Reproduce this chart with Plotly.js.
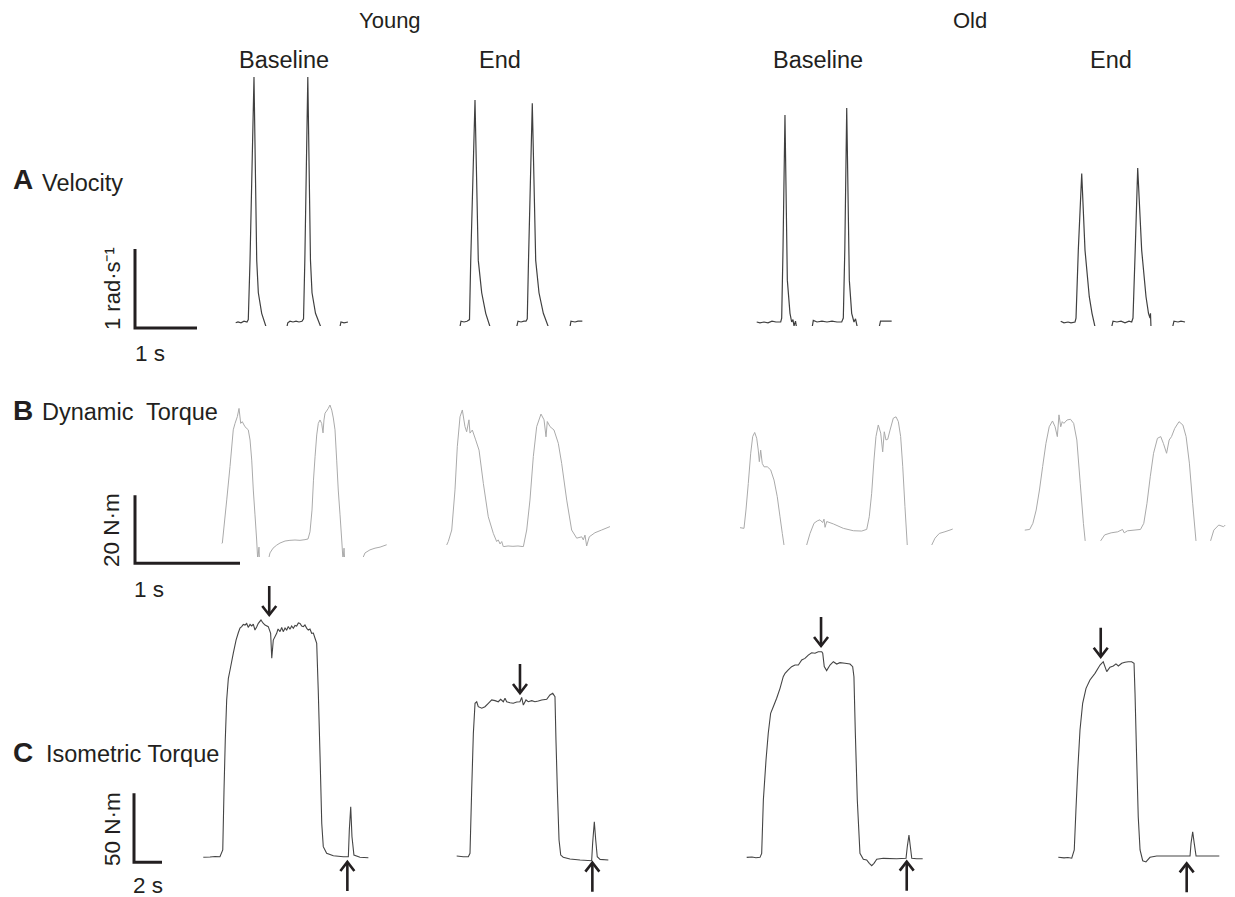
<!DOCTYPE html>
<html><head><meta charset="utf-8">
<script src="https://cdn.plot.ly/plotly-3.0.1.min.js"></script>
<style>html,body{margin:0;padding:0;background:#fff}#chart{width:1235px;height:897px}</style>
</head><body><div id="chart"></div>
<script>
// ---------- DATA (time in s, value in physical units) ----------
// Row A: angular velocity (rad/s)
const velYoungBase = [[0,-0.01],[0.037,0],[0.085,-0.01],[0.134,0.01],[0.182,0],[0.203,0.03],[0.231,0.78],[0.295,3.10],[0.339,0.78],[0.365,0.37],[0.419,0.11],[0.489,-0.06],[0.66,-0.6],[0.827,-0.06],[0.84,-0.01],[0.876,0.01],[0.924,0],[0.973,0.01],[1.021,0],[1.069,0.01],[1.094,0.04],[1.115,0.78],[1.163,3.10],[1.206,0.78],[1.231,0.37],[1.287,0.11],[1.371,-0.06],[1.53,-0.6],[1.682,-0.06],[1.698,0],[1.747,-0.01],[1.811,0]];
const velYoungEnd = [[0,-0.06],[0.016,0.01],[0.065,0],[0.113,0.01],[0.153,0.03],[0.173,0.78],[0.242,2.81],[0.295,0.78],[0.350,0.37],[0.415,0.11],[0.484,-0.06],[0.7,-0.6],[0.915,-0.06],[0.935,0.01],[0.984,0],[1.032,0.01],[1.065,0.01],[1.085,0.04],[1.105,0.78],[1.166,2.77],[1.221,0.78],[1.274,0.37],[1.344,0.11],[1.424,-0.06],[1.6,-0.6],[1.774,-0.06],[1.79,0.01],[1.855,0],[1.903,0.01],[1.973,0.01]];
const velOldBase = [[0,0],[0.053,-0.01],[0.118,0],[0.182,-0.01],[0.247,0.01],[0.311,0],[0.387,0],[0.403,0.05],[0.424,0.91],[0.456,2.62],[0.494,0.53],[0.537,0.11],[0.564,0],[0.585,0.03],[0.602,-0.05],[0.626,0.01],[0.645,-0.08],[0.78,-0.6],[0.913,0.02],[0.973,0],[1.053,0.01],[1.134,0],[1.215,0.01],[1.295,0],[1.371,0],[1.397,0.05],[1.421,0.91],[1.452,2.71],[1.494,0.53],[1.532,0.11],[1.569,0],[1.594,0.04],[1.618,-0.05],[1.65,-0.08],[1.81,-0.6],[1.977,-0.06],[1.997,0.01],[2.053,0.01],[2.118,0.01],[2.177,0.01]];
const velOldEnd = [[0,0.01],[0.053,-0.01],[0.118,0],[0.166,-0.01],[0.231,0],[0.247,0.05],[0.284,0.91],[0.339,1.88],[0.392,0.91],[0.461,0.32],[0.505,0.11],[0.553,-0.06],[0.69,-0.6],[0.823,-0.06],[0.844,0.01],[0.908,0],[0.973,0.01],[1.037,-0.01],[1.102,0.01],[1.145,0],[1.166,0.05],[1.202,0.91],[1.242,1.95],[1.306,0.91],[1.376,0.32],[1.416,0.11],[1.44,0.05],[1.448,0.11],[1.456,-0.06],[1.63,-0.6],[1.806,-0.06],[1.827,0.01],[1.892,0],[1.94,0.01],[2.005,0]];

// Row B: dynamic torque (N·m)
const dynYoungBase = [[0,4.0],[0.006,4.1],[0.048,16.8],[0.079,26.6],[0.110,37.4],[0.127,39.3],[0.149,41.3],[0.165,43.7],[0.181,39.3],[0.196,39.8],[0.222,38.3],[0.253,37.4],[0.270,34.4],[0.286,28.5],[0.301,19.7],[0.317,12.4],[0.333,5.0],[0.343,-0.9],[0.355,2.9],[0.362,-2.4],[0.40,-8],[0.444,-0.9],[0.46,1.2],[0.489,2.6],[0.524,3.5],[0.555,4.1],[0.603,4.7],[0.65,4.9],[0.698,5.0],[0.746,4.9],[0.793,5.1],[0.822,5.3],[0.841,7.4],[0.86,13.8],[0.874,22.6],[0.889,29.5],[0.905,35.9],[0.92,39.3],[0.936,40.3],[0.952,39.3],[0.965,36.5],[0.974,40.3],[0.984,42.3],[0.998,42.9],[1.015,43.7],[1.031,44.7],[1.048,43.2],[1.063,40.9],[1.079,37.4],[1.095,28.5],[1.110,19.7],[1.127,12.4],[1.143,5.0],[1.155,-0.9],[1.165,2.6],[1.174,-2.4],[1.25,-8],[1.336,-0.9],[1.365,1.2],[1.412,2.1],[1.46,2.6],[1.508,2.9],[1.571,3.6]];
const dynYoungEnd = [[0,0.6],[0.015,1.6],[0.048,5.0],[0.079,16.8],[0.101,29.5],[0.127,38.3],[0.149,40.3],[0.174,35.4],[0.19,33.9],[0.212,37.4],[0.222,33.5],[0.244,34.4],[0.276,31.5],[0.308,28.5],[0.349,18.7],[0.396,8.9],[0.444,4.0],[0.476,1.6],[0.491,2.1],[0.508,0.9],[0.524,1.6],[0.539,0.1],[0.584,0.3],[0.631,0.2],[0.679,0.3],[0.73,0.1],[0.762,5.0],[0.793,13.8],[0.825,26.6],[0.857,35.4],[0.898,39.1],[0.927,37.4],[0.946,32.4],[0.958,36.9],[0.984,35.4],[1.022,34.4],[1.063,30.5],[1.095,24.6],[1.143,13.8],[1.19,5.0],[1.238,2.6],[1.286,3.0],[1.301,2.1],[1.317,3.5],[1.333,0.3],[1.358,3.0],[1.412,4.2],[1.476,5.0],[1.555,6.0]];
const dynOldBase = [[0,5.1],[0.038,4.9],[0.057,10.3],[0.079,18.1],[0.102,27.0],[0.121,31.9],[0.14,33.1],[0.159,31.4],[0.174,27.9],[0.184,24.5],[0.197,27.9],[0.212,24.0],[0.229,23.0],[0.26,23.0],[0.292,22.1],[0.324,19.1],[0.355,14.2],[0.381,8.3],[0.403,3.4],[0.419,0],[0.429,-2],[0.52,-10],[0.624,-2],[0.635,0],[0.667,3.4],[0.705,6.4],[0.736,7.1],[0.762,7.4],[0.787,6.6],[0.8,7.6],[0.81,5.2],[0.826,6.9],[0.889,6.2],[0.984,4.9],[1.079,4.2],[1.159,4.1],[1.207,4.6],[1.231,8.3],[1.254,15.2],[1.276,25.0],[1.295,31.9],[1.317,35.3],[1.34,32.9],[1.359,27.4],[1.374,33.3],[1.39,30.9],[1.407,31.1],[1.429,33.8],[1.46,37.3],[1.486,37.7],[1.508,36.3],[1.53,31.9],[1.55,23.0],[1.571,11.3],[1.593,0],[1.6,-2],[1.7,-10],[1.819,-2],[1.826,0],[1.857,2.0],[1.898,3.4],[1.952,3.9],[2.0,4.4],[2.026,4.7]];
const dynOldEnd = [[0,3.2],[0.048,3.4],[0.079,5.2],[0.111,9.1],[0.143,15.0],[0.174,21.9],[0.206,28.7],[0.238,33.6],[0.27,35.3],[0.295,33.6],[0.317,30.7],[0.333,37.1],[0.35,33.6],[0.365,35.1],[0.381,34.6],[0.412,35.6],[0.445,35.8],[0.476,34.6],[0.507,29.7],[0.54,17.0],[0.571,5.2],[0.588,0.1],[0.594,-2],[0.66,-10],[0.733,-2],[0.74,0.1],[0.778,1.8],[0.841,2.4],[0.905,2.7],[0.952,3.4],[0.968,2.4],[1.0,3.0],[1.064,3.2],[1.127,3.4],[1.159,5.2],[1.19,11.1],[1.222,18.9],[1.254,25.8],[1.292,30.2],[1.324,30.7],[1.35,28.7],[1.381,25.8],[1.406,29.7],[1.429,30.7],[1.46,33.1],[1.502,35.1],[1.54,34.1],[1.571,30.7],[1.603,22.9],[1.635,11.1],[1.667,0.1],[1.673,-2],[1.74,-10],[1.805,-2],[1.81,0.1],[1.841,3.2],[1.889,4.7],[1.936,4.2],[1.952,4.7]];

// Row C: isometric torque (N·m)
const isoYoungBase = [[0,-0.2],[0.48,0],[0.84,0.4],[1.19,0.2],[1.39,5.1],[1.48,48.6],[1.57,84.8],[1.67,113.8],[1.79,129.5],[1.91,135.5],[2.14,147.6],[2.34,157.2],[2.5,162.5],[2.62,165.9],[2.74,166.9],[2.86,168.5],[2.98,168.1],[3.1,169.2],[3.21,166.4],[3.34,168.5],[3.46,167.4],[3.57,168.8],[3.69,164.5],[3.81,166.7],[3.93,169.3],[4.12,171.7],[4.26,169.6],[4.41,168.1],[4.64,166.9],[4.81,162.1],[4.89,144.0],[5.0,157.2],[5.24,162.1],[5.34,165.2],[5.48,163.3],[5.6,166.3],[5.71,163.3],[5.84,165.9],[5.96,164.5],[6.07,167.0],[6.19,165.0],[6.31,167.4],[6.43,165.7],[6.55,167.8],[6.67,167.4],[6.79,169.6],[6.91,169.3],[7.03,167.4],[7.14,166.9],[7.26,168.1],[7.39,165.7],[7.5,164.5],[7.62,165.2],[7.74,162.1],[7.86,162.3],[7.98,158.5],[8.1,154.9],[8.21,121.0],[8.34,72.7],[8.46,24.4],[8.57,7.5],[8.81,2.7],[9.29,0.9],[10.0,0.2],[10.36,0.2],[10.43,19.6],[10.53,36.4],[10.62,14.7],[10.76,1.4],[11.19,-0.2],[11.79,-0.5]];
const isoYoungEnd = [[0,0.7],[0.47,0.2],[0.83,0.2],[0.95,2.7],[1.07,48.6],[1.19,89.6],[1.31,111.4],[1.43,112.5],[1.54,108.9],[1.79,107.8],[2.02,108.9],[2.26,111.4],[2.5,113.8],[2.74,113.3],[2.97,112.5],[3.14,114.3],[3.33,112.5],[3.45,115.0],[3.57,112.5],[3.81,111.8],[4.04,111.4],[4.29,112.3],[4.52,112.5],[4.64,115.7],[4.76,110.1],[4.95,113.8],[5.11,112.5],[5.36,113.3],[5.59,112.5],[5.83,113.0],[6.07,113.8],[6.43,114.3],[6.66,117.4],[6.86,118.6],[7.02,116.2],[7.09,84.8],[7.19,48.6],[7.31,12.3],[7.43,1.4],[7.61,-0.2],[8.09,-1.4],[8.81,-2.2],[9.64,-2.7],[9.71,9.9],[9.83,25.6],[9.93,12.3],[10.04,0.2],[10.24,-1.7],[10.83,-2.2]];
const isoOldBase = [[0,0.1],[0.38,0.4],[0.66,-0.2],[0.95,0.1],[1.07,3.0],[1.19,41.7],[1.38,70.7],[1.54,90.0],[1.71,104.5],[1.9,109.3],[2.14,115.4],[2.38,122.6],[2.61,131.0],[2.74,133.5],[2.97,135.9],[3.21,138.3],[3.45,139.5],[3.69,139.5],[3.93,143.1],[4.16,144.3],[4.4,146.7],[4.64,148.4],[4.88,148.0],[5.11,149.1],[5.36,149.1],[5.43,148.0],[5.54,138.3],[5.71,135.4],[5.95,139.5],[6.19,141.9],[6.43,140.2],[6.66,141.2],[7.02,140.7],[7.38,140.2],[7.57,138.3],[7.66,131.0],[7.76,90.0],[7.9,41.7],[8.09,3.0],[8.33,-1.3],[8.57,-1.8],[8.76,-4.2],[8.93,-5.9],[9.09,-4.2],[9.29,-1.3],[9.76,-0.6],[10.71,-0.9],[11.38,-0.6],[11.47,7.8],[11.59,16.3],[11.69,7.8],[11.79,-0.6],[12.14,-0.9],[12.57,-0.9]];
const isoOldEnd = [[0,-0.2],[0.41,-0.6],[0.69,-0.4],[0.96,-0.9],[1.14,5.1],[1.26,34.1],[1.39,63.0],[1.55,92.0],[1.74,111.4],[1.98,122.2],[2.26,128.3],[2.62,133.1],[2.98,139.1],[3.21,141.5],[3.46,134.3],[3.69,137.5],[3.93,138.4],[4.12,139.9],[4.29,138.4],[4.53,140.4],[4.76,141.1],[5.0,141.5],[5.24,141.5],[5.41,140.4],[5.48,118.6],[5.6,70.3],[5.71,29.2],[5.84,5.1],[6.03,-2.7],[6.26,-3.6],[6.55,-0.2],[7.03,0.7],[7.98,0.7],[8.93,0.7],[9.41,0.7],[9.48,9.9],[9.6,18.3],[9.71,9.9],[9.84,0.7],[10.36,0.7],[11.5,0.7]];

// Arrow markers in row C: [time (s), torque (N·m)] where each arrow points
const arrowDown = [[4.71,175.4],[4.52,118.8],[5.31,153.3],[3.03,145.1]];
const arrowUp = [[10.29,-3.6],[9.69,-4.1],[11.43,-3.0],[9.17,-4.6]];

// Scale bars
const scaleA_t = [0,0,1], scaleA_v = [1,0,0];     // 1 s, 1 rad·s-1
const scaleB_t = [0,0,1], scaleB_v = [20,0,0];    // 1 s, 20 N·m
const scaleC_t = [0,0,2], scaleC_v = [50,0,0];    // 2 s, 50 N·m

const groupLabels = ['Young','Old'];
const conditionLabels = ['Baseline','End','Baseline','End'];

// ---------- LAYOUT ----------
const W = 1235, H = 897;
const FONT = 'Liberation Sans, Arial, Helvetica, sans-serif';
const INK = '#231f20';
const data = [], annotations = [];
const layout = {width:W, height:H, margin:{l:0,r:0,t:0,b:0,pad:0}, paper_bgcolor:'#ffffff', plot_bgcolor:'rgba(0,0,0,0)', showlegend:false, font:{family:FONT, color:INK}, annotations:annotations, hovermode:false};

let n = 0;
function subplot(ox, oy, sx, sy, box) {
  n += 1;
  const s = n === 1 ? '' : String(n);
  layout['xaxis'+s] = {domain:[box[0]/W, box[1]/W], range:[(box[0]-ox)/sx, (box[1]-ox)/sx], visible:false, fixedrange:true, anchor:'y'+s};
  layout['yaxis'+s] = {domain:[1-box[3]/H, 1-box[2]/H], range:[(oy-box[3])/sy, (oy-box[2])/sy], visible:false, fixedrange:true, anchor:'x'+s};
  return {x:'x'+s, y:'y'+s};
}
function addLine(ts, vs, ax, color, width) {
  data.push({type:'scatter', mode:'lines', x:ts, y:vs, xaxis:ax.x, yaxis:ax.y, line:{color:color, width:width, simplify:false}, hoverinfo:'skip'});
}
function addPanel(pairs, ox, oy, sx, sy, top, bottom, color, width) {
  const ts = pairs.map(p=>p[0]), vs = pairs.map(p=>p[1]);
  const left = ox + Math.min(...ts)*sx - 10, right = ox + Math.max(...ts)*sx + 10;
  const ax = subplot(ox, oy, sx, sy, [left, right, top, bottom]);
  addLine(ts, vs, ax, color, width);
  return ax;
}
// arrow glyph (shaft + open chevron head), sizes in pixels converted via the row scale
function addArrow(pt, dir, ax, sx, sy) {
  const L = 29/sy, hl = 9/sy, hw = 7/sx;     // dir = -1 pointing down, +1 pointing up
  const t = pt[0], v = pt[1], s = -dir;
  data.push({type:'scatter', mode:'lines', xaxis:ax.x, yaxis:ax.y, hoverinfo:'skip',
    x:[t, t, null, t-hw, t, t+hw], y:[v + s*L, v + s*0.8/sy, null, v + s*hl, v, v + s*hl],
    line:{color:INK, width:2.6, simplify:false}});
}

// Row A
const A = {sx:62, sy:79, oy:322, top:60, color:'#404040', w:1.2};
[[velYoungBase,235.7],[velYoungEnd,460],[velOldBase,756.7],[velOldEnd,1060.7]].forEach(([d,ox])=>{
  addPanel(d, ox, A.oy, A.sx, A.sy, A.top, A.oy+4, A.color, A.w);
});
// Row B
const B = {sx:105, sy:3.4, top:385, color:'#aaaaaa', w:1};
[[dynYoungBase,221.7,557],[dynYoungEnd,446.7,547],[dynOldBase,740,545],[dynOldEnd,1025,541]].forEach(([d,ox,oy])=>{
  addPanel(d, ox, oy, B.sx, B.sy, B.top, oy, B.color, B.w);
});
// Row C
const C = {sx:14, sy:1.38, top:572, bottom:895, color:'#454545', w:1.1};
const cAxes = [[isoYoungBase,203.3,857],[isoYoungEnd,456.7,857],[isoOldBase,746.7,857.5],[isoOldEnd,1058.3,857]].map(([d,ox,oy])=>
  addPanel(d, ox, oy, C.sx, C.sy, C.top, C.bottom, C.color, C.w));
cAxes.forEach((ax,i)=>{
  addArrow(arrowDown[i], -1, ax, C.sx, C.sy);
  addArrow(arrowUp[i], 1, ax, C.sx, C.sy);
});

// Scale bars
const sA = subplot(135, 328, A.sx, A.sy, [125, 205, 240, 338]);
addLine(scaleA_t, scaleA_v, sA, INK, 3);
const sB = subplot(135, 563.3, B.sx, B.sy, [125, 250, 485, 573]);
addLine(scaleB_t, scaleB_v, sB, INK, 3);
const sC = subplot(134, 862.3, C.sx, C.sy, [124, 175, 785, 872]);
addLine(scaleC_t, scaleC_v, sC, INK, 3);

// Text
function txt(text, x, y, size, xanchor, angle, weight) {
  annotations.push({xref:'paper', yref:'paper', x:x/W, y:1-y/H, text:text, showarrow:false, xanchor:xanchor||'center', yanchor:'middle', textangle:angle||0, font:{family:FONT, size:size, color:INK, weight:weight||'normal'}});
}
txt(groupLabels[0], 390, 20, 22);
txt(groupLabels[1], 970, 20, 22);
[284, 500, 818, 1111].forEach((x,i)=>txt(conditionLabels[i], x, 60, 23.5));
txt('A', 11, 180, 28, 'left', 0, 'bold');
txt('Velocity', 40, 183, 23.5, 'left');
txt('B', 11, 410, 28, 'left', 0, 'bold');
txt('Dynamic\u00a0 Torque', 40, 412, 23.5, 'left');
txt('C', 11, 752, 28, 'left', 0, 'bold');
txt('Isometric Torque', 44, 754, 23.5, 'left');
txt('1 rad\u00b7s\u207b\u00b9', 112, 289, 22, 'center', -90);
txt('1 s', 150, 354, 22.5);
txt('20 N\u00b7m', 111, 530, 22.5, 'center', -90);
txt('1 s', 149, 589, 22.5);
txt('50 N\u00b7m', 112, 829, 22.5, 'center', -90);
txt('2 s', 148, 885, 22.5);

Plotly.newPlot('chart', data, layout, {staticPlot:true, displayModeBar:false});
</script>
</body></html>
